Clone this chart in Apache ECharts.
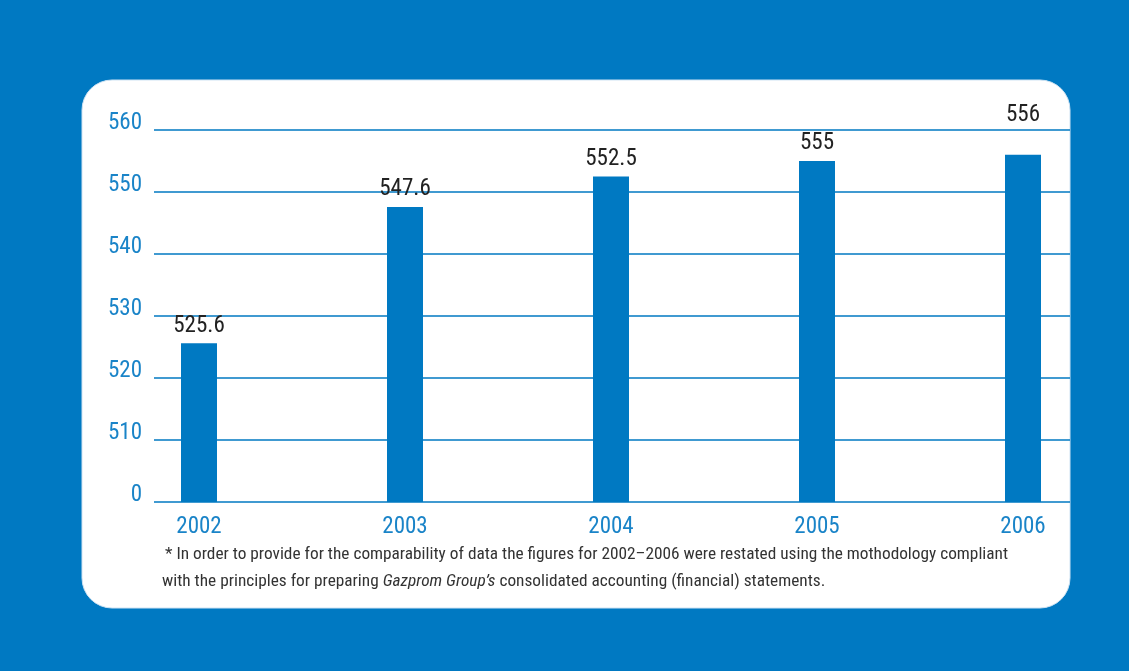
<!DOCTYPE html>
<html>
<head>
<meta charset="utf-8">
<script src="https://cdn.jsdelivr.net/npm/echarts@6/dist/echarts.min.js"></script>
<style>
  html, body { margin: 0; padding: 0; background: #0079c2; }
  #chart { width: 1129px; height: 671px; }
</style>
</head>
<body>
<div id="chart"></div>
<script>
// data
let years = ["2002", "2003", "2004", "2005", "2006"];
let values = [525.6, 547.6, 552.5, 555, 556];
let yMin = 500, yMax = 560, yStep = 10;

let blue = "#0079c2";
let font = "'Liberation Sans Narrow', 'Roboto Condensed', 'Liberation Sans', sans-serif";

let chart = echarts.init(document.getElementById("chart"), null, { renderer: "canvas" });

// last label sits above the top gridline in the original
let barData = values.map((v, i) => i === values.length - 1
    ? { value: v, label: { offset: [0, -22] } }
    : v);

let option = {
    backgroundColor: blue,
    animation: false,
    graphic: [
        {
            type: "rect", z: -10,
            shape: { x: 82, y: 80, width: 988, height: 528, r: 30 },
            style: { fill: "#fff", stroke: "#cfe3f3", lineWidth: 1 }
        },
        {
            type: "text", left: 165, top: 546,
            style: {
                text: "* In order to provide for the comparability of data the figures for 2002\u20132006 were restated using the mothodology compliant",
                font: "17.3px " + font, fill: "#333"
            }
        },
        {
            type: "text", left: 162, top: 573,
            style: {
                text: "{n|with the principles for preparing }{i|Gazprom Group\u2019s}{n| consolidated accounting (financial) statements.}",
                rich: {
                    n: { font: "17.3px " + font, fill: "#333" },
                    i: { font: "italic 17.3px " + font, fill: "#333" }
                }
            }
        }
    ],
    grid: [
        // gridlines and y labels
        { left: 154, right: 59, top: 130, bottom: 169 },
        // bars and year labels
        { left: 96, right: 3, top: 130, bottom: 169 }
    ],
    xAxis: [
        { gridIndex: 0, type: "category", data: years, show: false },
        {
            gridIndex: 1, type: "category", data: years,
            axisLine: { show: false }, axisTick: { show: false },
            axisLabel: { color: "#1a84c8", fontFamily: font, fontSize: 23, margin: 14 }
        }
    ],
    yAxis: [
        {
            gridIndex: 0, type: "value", min: yMin, max: yMax, interval: yStep,
            axisLine: { show: false }, axisTick: { show: false },
            axisLabel: {
                color: "#1a84c8", fontFamily: font, fontSize: 23, margin: 12,
                verticalAlign: "bottom", lineHeight: 13,
                formatter: v => v === yMin ? "0" : String(v)
            },
            splitLine: { lineStyle: { color: blue, width: 1.5 } }
        },
        {
            gridIndex: 1, type: "value", min: yMin, max: yMax, interval: yStep,
            show: false, splitLine: { show: false }
        }
    ],
    series: [
        {
            type: "bar", xAxisIndex: 1, yAxisIndex: 1,
            data: barData, barWidth: 36,
            itemStyle: { color: blue },
            label: {
                show: true, position: "top", distance: 6,
                color: "#222", fontFamily: font, fontSize: 23
            }
        }
    ]
};

chart.setOption(option);
</script>
</body>
</html>
